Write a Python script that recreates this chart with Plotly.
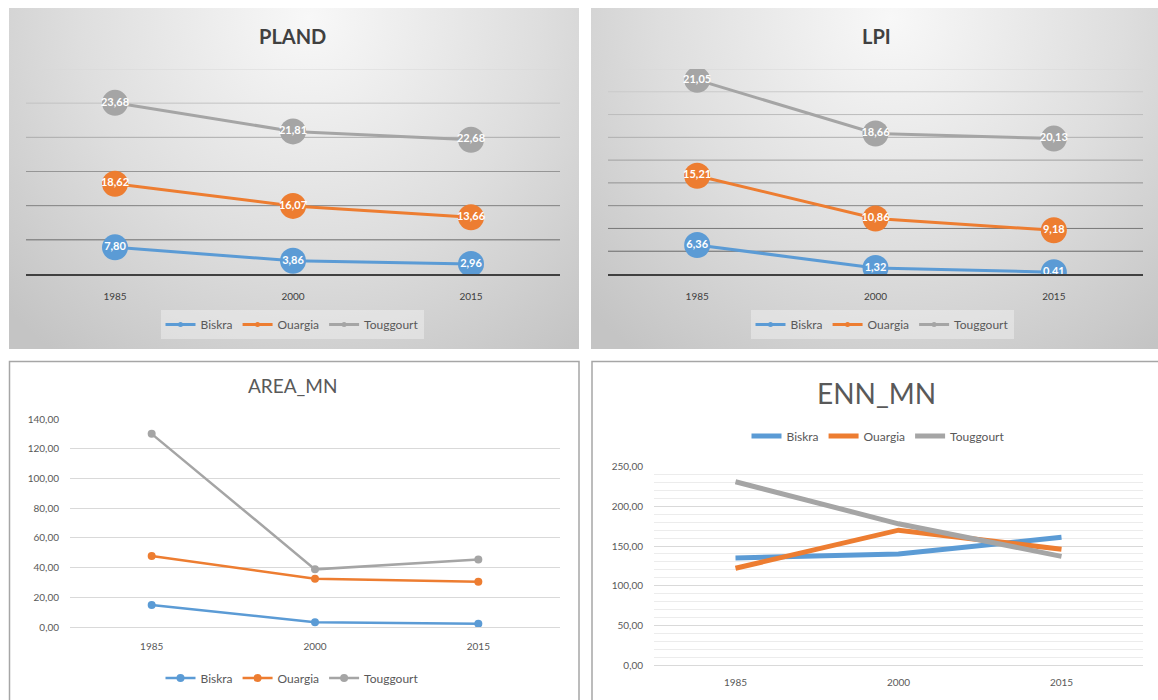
import base64
import plotly.graph_objects as go

# ---------------- data ----------------
years = ["1985", "2000", "2015"]
series_names = ["Biskra", "Ouargia", "Touggourt"]

pland_biskra = [7.80, 3.86, 2.96]
pland_ouargia = [18.62, 16.07, 13.66]
pland_touggourt = [23.68, 21.81, 22.68]

lpi_biskra = [6.36, 1.32, 0.41]
lpi_ouargia = [15.21, 10.86, 9.18]
lpi_touggourt = [21.05, 18.66, 20.13]

area_biskra = [14.8, 3.2, 2.2]
area_ouargia = [47.8, 32.5, 30.5]
area_touggourt = [130.0, 38.8, 45.5]

enn_biskra = [135.0, 140.0, 161.0]
enn_ouargia = [122.0, 170.0, 146.0]
enn_touggourt = [231.0, 178.0, 137.0]

colors = ["#5b9bd5", "#ed7d31", "#a5a5a5"]
FONT = "Lato, 'Open Sans', sans-serif"

W, H = 1158, 700


def X(px):
    return px / W


def Y(py):
    return 1 - py / H


def fmt(v):
    return f"{v:.2f}".replace(".", ",")


fig = go.Figure()

# ---------- panels 1 & 2 : stacked lines with big labelled markers ----------
for ax, grp, data in [("", "pland", [pland_biskra, pland_ouargia, pland_touggourt]),
                      ("2", "lpi", [lpi_biskra, lpi_ouargia, lpi_touggourt])]:
    leg = "legend" if ax == "" else "legend2"
    for name, vals, c in zip(series_names, data, colors):
        fig.add_trace(go.Scatter(
            x=years, y=vals, name=name, stackgroup=grp, fill="none",
            mode="lines+markers+text",
            line=dict(color=c, width=3),
            marker=dict(size=26, color=c),
            text=[fmt(v) for v in vals], textposition="middle center",
            textfont=dict(color="white", size=11, family=FONT, weight="bold"),
            showlegend=False, hoverinfo="skip",
            xaxis="x" + ax, yaxis="y" + ax))
    for name, c in zip(series_names, colors):
        fig.add_trace(go.Scatter(
            x=[None], y=[None], name=name, mode="lines+markers",
            line=dict(color=c, width=3), marker=dict(size=5, color=c),
            legend=leg, xaxis="x" + ax, yaxis="y" + ax))

# ---------- panel 3 : AREA_MN ----------
for name, vals, c in zip(series_names, [area_biskra, area_ouargia, area_touggourt], colors):
    fig.add_trace(go.Scatter(
        x=years, y=vals, name=name, mode="lines+markers",
        line=dict(color=c, width=2.5), marker=dict(size=8, color=c),
        legend="legend3", xaxis="x3", yaxis="y3"))

# ---------- panel 4 : ENN_MN ----------
for name, vals, c in zip(series_names, [enn_biskra, enn_ouargia, enn_touggourt], colors):
    fig.add_trace(go.Scatter(
        x=years, y=vals, name=name, mode="lines",
        line=dict(color=c, width=5),
        legend="legend4", xaxis="x4", yaxis="y4"))

# ---------- gradient background for the top panels ----------
svg = ("<svg xmlns='http://www.w3.org/2000/svg' width='570' height='341' viewBox='0 0 570 341' "
       "preserveAspectRatio='none'><defs><radialGradient id='g' gradientUnits='userSpaceOnUse' "
       "cx='300' cy='10' r='420'><stop offset='0' stop-color='#f8f8f8'/>"
       "<stop offset='0.55' stop-color='#dedede'/><stop offset='1' stop-color='#c4c4c4'/>"
       "</radialGradient></defs><rect width='570' height='341' fill='url(#g)'/></svg>")
svg_uri = "data:image/svg+xml;base64," + base64.b64encode(svg.encode()).decode()

images = []
for x0 in (9, 591):
    images.append(dict(source=svg_uri, xref="paper", yref="paper", x=X(x0), y=Y(8),
                       sizex=570 / W, sizey=341 / H, sizing="stretch",
                       xanchor="left", yanchor="top", layer="below"))

shapes = [
    dict(type="rect", xref="paper", yref="paper", x0=X(9.5), x1=X(579), y0=Y(712), y1=Y(361.5),
         line=dict(color="#a6a6a6", width=1.5), layer="below"),
    dict(type="rect", xref="paper", yref="paper", x0=X(592), x1=X(1162), y0=Y(712), y1=Y(361.5),
         line=dict(color="#a6a6a6", width=1.5), layer="below"),
]


def mix(c1, c2, t):
    a = [int(c1[i:i + 2], 16) for i in (1, 3, 5)]
    b = [int(c2[i:i + 2], 16) for i in (1, 3, 5)]
    return "#" + "".join(f"{round(a[k] + (b[k] - a[k]) * t):02x}" for k in range(3))


# gridlines of the two top panels fade from dark (bottom) to light (top)
for yref, top, step in (("y", 60, 10), ("y2", 45, 5)):
    n = top // step
    for i in range(1, n + 1):
        v = i * step
        t = (i - 1) / (n - 1)
        shapes.append(dict(type="line", xref=yref.replace("y", "x") + " domain", x0=0, x1=1,
                           yref=yref, y0=v, y1=v,
                           line=dict(color=mix("#6a6a6a", "#d8d8d8", t), width=1),
                           layer="below"))

annotations = [
    dict(text="PLAND", x=X(292), y=Y(36), xref="paper", yref="paper", showarrow=False,
         xanchor="center", yanchor="middle",
         font=dict(size=20, color="#404040", family=FONT, weight="bold")),
    dict(text="LPI", x=X(876), y=Y(36), xref="paper", yref="paper", showarrow=False,
         xanchor="center", yanchor="middle",
         font=dict(size=20, color="#404040", family=FONT, weight="bold")),
    dict(text="AREA_MN", x=X(292), y=Y(386), xref="paper", yref="paper", showarrow=False,
         xanchor="center", yanchor="middle",
         font=dict(size=19, color="#595959", family=FONT)),
    dict(text="ENN_MN", x=X(876), y=Y(393), xref="paper", yref="paper", showarrow=False,
         xanchor="center", yanchor="middle",
         font=dict(size=28, color="#595959", family=FONT)),
]

top_x = dict(type="category", range=[-0.5, 2.5], showgrid=False, showline=True,
             linecolor="#404040", linewidth=1.5, ticks="", ticklabelstandoff=12,
             tickfont=dict(size=10, color="#404040", family=FONT), fixedrange=True)
top_y = dict(showgrid=False, showticklabels=False,
             zeroline=False, ticks="", fixedrange=True)
bot_x = dict(type="category", range=[-0.5, 2.5], showgrid=False, showline=True,
             linecolor="#d9d9d9", linewidth=1, ticks="",
             tickfont=dict(size=10, color="#595959", family=FONT), fixedrange=True)
bot_y = dict(showgrid=True, gridcolor="#d9d9d9", gridwidth=1, zeroline=False, ticks="",
             tickformat=".2f", ticklabelstandoff=10,
             tickfont=dict(size=10, color="#595959", family=FONT), fixedrange=True)

legend_common = dict(orientation="h", xanchor="center", yanchor="middle",
                     font=dict(size=12, color="#595959", family=FONT),
                     itemclick=False, itemdoubleclick=False, tracegroupgap=0)

fig.update_layout(
    width=W, height=H, margin=dict(l=0, r=0, t=0, b=0, pad=0, autoexpand=False),
    paper_bgcolor="white", plot_bgcolor="rgba(0,0,0,0)",
    separators=", ", font=dict(family=FONT),
    images=images, shapes=shapes, annotations=annotations,
    xaxis=dict(top_x, domain=[X(26), X(560)], anchor="y"),
    yaxis=dict(top_y, domain=[Y(274), Y(69)], range=[0, 60], anchor="x"),
    xaxis2=dict(top_x, domain=[X(608), X(1143)], anchor="y2"),
    yaxis2=dict(top_y, domain=[Y(274), Y(69)], range=[0, 45], anchor="x2"),
    xaxis3=dict(bot_x, domain=[X(70), X(560)], anchor="y3", ticklabelstandoff=10),
    yaxis3=dict(bot_y, domain=[Y(627), Y(419)], range=[0, 140], dtick=20, anchor="x3"),
    xaxis4=dict(bot_x, domain=[X(654), X(1143)], anchor="y4", ticklabelstandoff=8),
    yaxis4=dict(bot_y, domain=[Y(665), Y(466.7)], range=[0, 250], dtick=50, anchor="x4",
                minor=dict(dtick=10, showgrid=True, gridcolor="#ececec", gridwidth=1)),
    legend=dict(legend_common, x=X(292), y=Y(324.5), bgcolor="rgba(245,245,245,0.45)"),
    legend2=dict(legend_common, x=X(882), y=Y(324.5), bgcolor="rgba(245,245,245,0.45)"),
    legend3=dict(legend_common, x=X(292), y=Y(678), bgcolor="rgba(0,0,0,0)"),
    legend4=dict(legend_common, x=X(878), y=Y(436), bgcolor="rgba(0,0,0,0)"),
    showlegend=True,
)

fig.write_html("out.html", config={"displayModeBar": False},
               post_script="document.body.style.margin='0px';")
